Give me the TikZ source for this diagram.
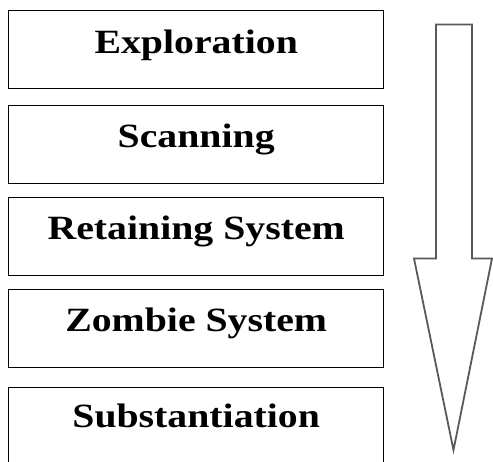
\documentclass[tikz,border=0pt]{standalone}
\usepackage{fontspec}
\newfontfamily\stagefont[FakeStretch=1.17]{Liberation Serif}
\begin{document}
\begin{tikzpicture}[x=1pt,y=-1pt,
  stagebox/.style={draw=black,line width=1.4pt,minimum width=375pt,minimum height=78pt,inner sep=0pt,anchor=north west},
  stagelabel/.style={anchor=base,inner sep=0pt,font=\stagefont\bfseries\fontsize{34}{34}\selectfont},
  flowarrow/.style={draw=black!65,line width=1.8pt,line join=miter}]
\useasboundingbox (0,0) rectangle (493,462);
\clip (0,0) rectangle (493,462);
% stacked stages
\node[stagebox] (s1) at (8,10) {};
\node[stagebox] (s2) at (8,105) {};
\node[stagebox] (s3) at (8,197) {};
\node[stagebox] (s4) at (8,289) {};
\node[stagebox] (s5) at (8,387) {};
\node[stagelabel] (t1) at ([yshift=-44pt]s1.north) {Exploration};
\node[stagelabel] (t2) at ([yshift=-43pt]s2.north) {Scanning};
\node[stagelabel] (t3) at ([yshift=-43pt]s3.north) {Retaining System};
\node[stagelabel] (t4) at ([yshift=-43pt]s4.north) {Zombie System};
\node[stagelabel] (t5) at ([yshift=-41pt]s5.north) {Substantiation};
% block arrow pointing down
\coordinate (atip) at (453.5,450);
\draw[flowarrow] (436,24.5) -- (472,24.5) -- (472,258.5) -- (492,258.5)
  -- (atip) -- (414,258.5) -- (436,258.5) -- cycle;
\end{tikzpicture}
\end{document}
